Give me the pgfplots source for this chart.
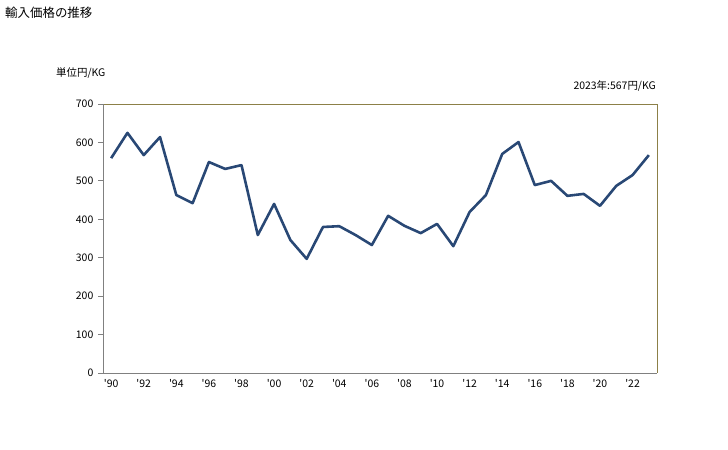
\documentclass[border=0pt]{standalone}
\usepackage{pgfplots}
\pgfplotsset{compat=1.18}
\usepackage{fontspec}
\setmainfont{Noto Sans CJK JP}
\definecolor{linec}{RGB}{41,72,117}
\definecolor{framec}{RGB}{140,128,72}
\definecolor{axisc}{RGB}{128,128,128}
\newcommand{\q}{\textquotesingle}
\begin{document}
\fontsize{10.5}{12}\selectfont
\begin{tikzpicture}[x=1bp,y=1bp]
\path[use as bounding box] (0,0) rectangle (728,450);
\node[anchor=north west,inner sep=0pt] at (5,443) {\fontsize{12.5}{14}\selectfont 輸入価格の推移};
\node[anchor=west,inner sep=0pt] at (56,377) {単位円/KG};
\node[anchor=east,inner sep=0pt] at (656,364) {2023年:567円/KG};
\begin{axis}[
  at={(103bp,77bp)}, anchor=south west,
  scale only axis, width=554bp, height=269bp,
  xmin=1989.5, xmax=2023.5, ymin=0, ymax=700,
  ytick={0,100,...,700},
  xtick={1990,1992,...,2022},
  xticklabels={\q90,\q92,\q94,\q96,\q98,\q00,\q02,\q04,\q06,\q08,\q10,\q12,\q14,\q16,\q18,\q20,\q22},
  axis line style={draw=none},
  ytick pos=left, xtick pos=bottom,
  ytick style={draw=axisc, line width=0.8pt},
  xtick style={draw=none},
  y tick label style={font=\fontsize{10.5}{12}\selectfont},
  x tick label style={font=\fontsize{10.5}{12}\selectfont},
  tick align=outside, major tick length=5bp,
  /pgf/number format/assume math mode=true,
  yticklabel style={xshift=-1bp},
  xticklabel style={yshift=2bp},
  clip=false,
]
\draw[framec, line width=0.9pt] (axis cs:1989.5,0) -- (axis cs:1989.5,700) -- (axis cs:2023.5,700) -- (axis cs:2023.5,0);
\draw[axisc, line width=0.9pt] (axis cs:1989.5,0) -- (axis cs:2023.5,0);
\draw[axisc, line width=0.9pt] (axis cs:1989.5,0) -- (axis cs:1989.5,700);
\addplot[linec, line width=2.6pt, line join=round, mark=none] coordinates {
(1990,559) (1991,625) (1992,567) (1993,614) (1994,463) (1995,442)
(1996,549) (1997,531) (1998,541) (1999,359) (2000,440) (2001,346)
(2002,297) (2003,380) (2004,382) (2005,359) (2006,333) (2007,409)
(2008,383) (2009,364) (2010,388) (2011,330) (2012,419) (2013,463)
(2014,570) (2015,601) (2016,489) (2017,500) (2018,461) (2019,466)
(2020,435) (2021,487) (2022,515) (2023,567)
};
\end{axis}
\end{tikzpicture}
\end{document}
